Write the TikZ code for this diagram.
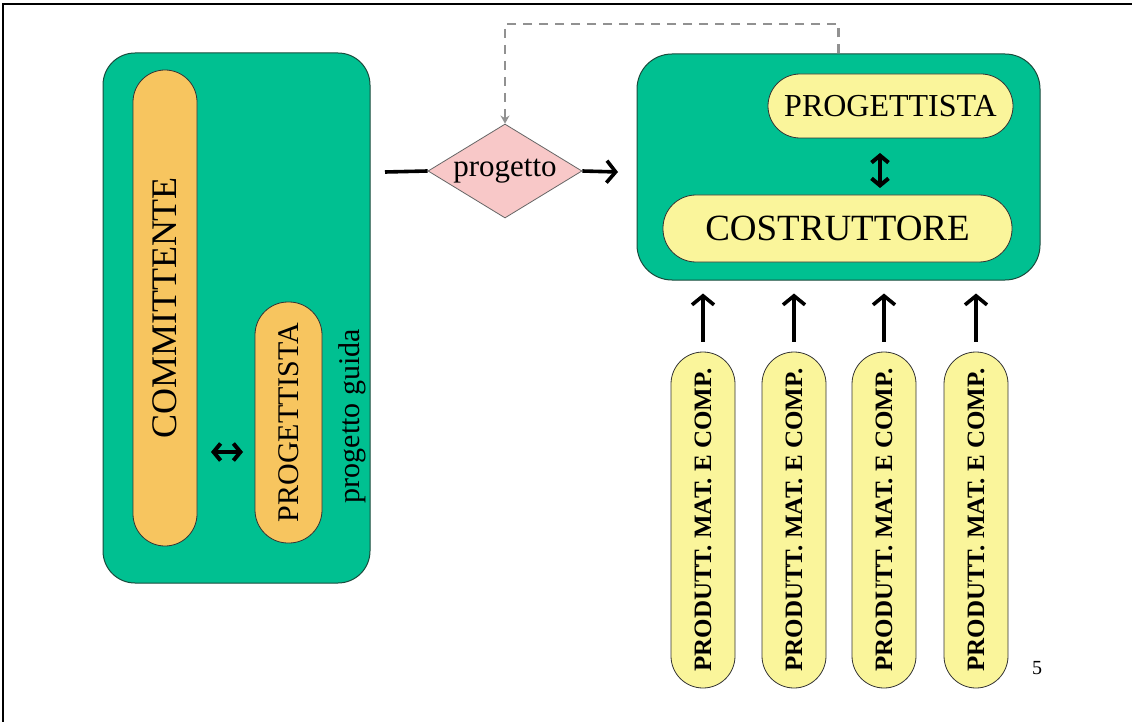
\documentclass[tikz,border=0pt]{standalone}
\usepackage{fontspec}
\setmainfont{Liberation Serif}
\usetikzlibrary{shapes.geometric,arrows.meta}
\definecolor{panelgreen}{RGB}{0,192,145}
\definecolor{panelborder}{RGB}{25,75,60}
\definecolor{roleorange}{RGB}{247,197,95}
\definecolor{roleyellow}{RGB}{250,245,155}
\definecolor{docpink}{RGB}{248,200,200}
\definecolor{feedgray}{RGB}{145,145,145}
\tikzset{
  panel/.style={draw=panelborder, line width=1pt, fill=panelgreen, rounded corners=32pt, inner sep=0pt},
  orangerole/.style={draw=black!80, line width=0.8pt, fill=roleorange, inner sep=0pt},
  yellowrole/.style={draw=black!80, line width=0.8pt, fill=roleyellow, inner sep=0pt},
  flowline/.style={line width=3.6pt, black},
  flowarrow/.style={line width=3.6pt, black, -{Straight Barb[length=9pt,width=22pt]}},
  twoway/.style={line width=4pt, black, {Straight Barb[length=7pt,width=17pt]}-{Straight Barb[length=7pt,width=17pt]}},
  feedback/.style={line width=2.8pt, feedgray, dash pattern=on 9pt off 7pt, -{Stealth[length=8pt,width=9pt]}},
}
\begin{document}
\begin{tikzpicture}[x=1pt,y=-1pt]
\useasboundingbox (0,0) rectangle (1132,722);
\fill[white] (0,0) rectangle (1132,722);

% page frame (top and left edges)
\coordinate (fbl) at (3,722);
\coordinate (ftl) at (3,4);
\coordinate (ftr) at (1132,4);
\draw[line width=1.5pt] (fbl) -- (ftl) -- (ftr);

% left panel: client and guide designer
\node[panel, minimum width=267pt, minimum height=530pt] (lbox) at (236.5,318) {};
\node[orangerole, rotate=90, rounded corners=32pt, minimum width=476pt, minimum height=64pt,
      font=\fontsize{36}{40}\selectfont] (comm) at (165,308) {COMMITTENTE};
\node[orangerole, rotate=90, rounded corners=33pt, minimum width=241pt, minimum height=67pt,
      font=\fontsize{30}{34}\selectfont] (lprog) at (288.5,422.5) {PROGETTISTA};
\node[rotate=90, inner sep=0pt, font=\fontsize{30}{34}\selectfont] (guida) at (352,416) {progetto guida};
\coordinate (lra) at (211,452);
\coordinate (lrb) at (243,452);
\draw[twoway] (lra) -- (lrb);

% design document
\node[diamond, draw=black!60, line width=0.8pt, fill=docpink, inner sep=0pt, shape aspect=1.64,
      minimum width=154pt, minimum height=94pt, font=\fontsize{31}{34}\selectfont] (dia) at (505,171) {progetto};
\coordinate (din) at (385,172);
\coordinate (dout) at (618,172);
\draw[flowline] (din) -- (dia.west);
\draw[flowarrow] (dia.east) -- (dout);

% right panel: designer and builder
\node[panel, rounded corners=35pt, minimum width=403pt, minimum height=226pt] (rbox) at (838.5,167) {};
\node[yellowrole, rounded corners=32pt, minimum width=245pt, minimum height=64pt,
      font=\fontsize{32}{36}\selectfont] (rprog) at (890.5,106) {PROGETTISTA};
\node[yellowrole, rounded corners=33pt, minimum width=349pt, minimum height=67pt,
      font=\fontsize{37}{40}\selectfont] (costr) at (837.5,228.5) {COSTRUTTORE};
\coordinate (rua) at (880,153);
\coordinate (rub) at (880,188);
\draw[twoway] (rua) -- (rub);

% feedback from the right panel back to the design
\coordinate (fbtop) at (0,24);
\draw[feedback] (rbox.north) -- (rbox.north |- fbtop) -| (dia.north);

% suppliers of materials and components
\foreach \i/\x in {1/703,2/794,3/884,4/976}{
  \node[yellowrole, rotate=90, rounded corners=32pt, minimum width=336pt, minimum height=64pt,
        font=\fontsize{25}{28}\selectfont\bfseries] (prod\i) at (\x,520) {PRODUTT. MAT. E COMP.};
  \draw[flowarrow, shorten <=10pt, shorten >=13pt] (prod\i.east) -- (prod\i.east |- rbox.south);
}

% page number
\node[inner sep=0pt, font=\fontsize{20}{24}\selectfont] (pnum) at (1037,668) {5};
\end{tikzpicture}
\end{document}
